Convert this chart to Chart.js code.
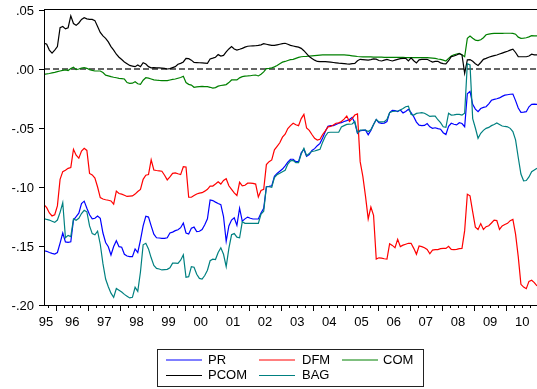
<!DOCTYPE html>
<html>
<head>
<meta charset="utf-8">
<style>
  html, body { margin: 0; padding: 0; background: #fff; }
  #wrap { position: relative; width: 537px; height: 389px; }
</style>
<script src="https://cdn.jsdelivr.net/npm/chart.js@4/dist/chart.umd.min.js"></script>
</head>
<body>
<div id="wrap"><canvas id="c" width="537" height="389"></canvas></div>
<script>
// Monthly observations, 1995M08 - 2010M12
const startYear = 1995;
const startMonth = 8;

const seriesNames = ['PR', 'DFM', 'COM', 'PCOM', 'BAG'];
const seriesColors = ['#0000ff', '#ff0000', '#008000', '#000000', '#008080'];

const PR = [
  -.154,-.1545,-.1555,-.1563,-.1568,-.1555,-.1475,-.139,-.1465,-.147,
  -.1465,-.128,-.1252,-.1222,-.114,-.112,-.118,-.1235,-.127,-.1265,
  -.1246,-.1265,-.139,-.147,-.1506,-.1576,-.1505,-.1455,-.1506,-.151,
  -.157,-.1585,-.159,-.159,-.1525,-.1555,-.145,-.133,-.1248,-.1255,
  -.133,-.14,-.143,-.1432,-.1435,-.1435,-.143,-.139,-.1382,-.137,
  -.1362,-.1345,-.1305,-.139,-.1398,-.135,-.134,-.1378,-.1375,-.136,
  -.132,-.127,-.111,-.1115,-.1128,-.114,-.115,-.125,-.146,-.133,
  -.128,-.126,-.1325,-.118,-.129,-.127,-.1255,-.1265,-.1271,-.1271,
  -.1271,-.122,-.118,-.0998,-.0995,-.099,-.091,-.0885,-.0866,-.0848,
  -.082,-.079,-.0765,-.0765,-.0785,-.0785,-.071,-.068,-.074,-.0725,
  -.069,-.0675,-.065,-.063,-.0585,-.053,-.0485,-.048,-.048,-.047,
  -.046,-.0455,-.0445,-.0437,-.0428,-.041,-.0455,-.0545,-.0523,-.052,
  -.0518,-.0558,-.052,-.047,-.0428,-.0455,-.046,-.0458,-.0445,-.037,
  -.035,-.0352,-.036,-.0348,-.0372,-.036,-.0342,-.037,-.0405,-.045,
  -.0476,-.048,-.0478,-.0462,-.049,-.0503,-.0498,-.0505,-.051,-.054,
  -.0555,-.0485,-.046,-.0468,-.0474,-.0455,-.0462,-.0489,-.021,-.019,
  -.03,-.034,-.0362,-.0335,-.0325,-.032,-.0295,-.0265,-.0258,-.0252,
  -.0245,-.0232,-.0222,-.0218,-.0214,-.0212,-.0268,-.033,-.0367,-.0365,
  -.0362,-.032,-.03,-.0298,-.03
];

const DFM = [
  -.115,-.1175,-.122,-.1245,-.1235,-.116,-.0935,-.087,-.0858,-.0842,
  -.0835,-.068,-.073,-.0755,-.0695,-.0672,-.069,-.0885,-.0898,-.0925,
  -.1,-.109,-.1102,-.1108,-.1112,-.1118,-.1145,-.1035,-.1055,-.106,
  -.107,-.108,-.1078,-.1076,-.106,-.1038,-.102,-.0935,-.09,-.0895,
  -.077,-.0856,-.086,-.0863,-.0866,-.09,-.094,-.0915,-.0884,-.088,
  -.0888,-.0895,-.0828,-.083,-.1087,-.1087,-.1072,-.1059,-.1052,-.1048,
  -.1035,-.102,-.0992,-.0992,-.0975,-.0955,-.0975,-.0945,-.093,-.099,
  -.102,-.105,-.1072,-.096,-.099,-.0985,-.0968,-.0968,-.097,-.0975,
  -.1085,-.103,-.102,-.081,-.0785,-.0771,-.0685,-.0655,-.0625,-.0578,
  -.0553,-.0505,-.048,-.046,-.0472,-.048,-.042,-.0384,-.05,-.052,
  -.0555,-.0588,-.0602,-.0595,-.0555,-.0525,-.049,-.0486,-.0475,-.046,
  -.0456,-.0445,-.0425,-.0398,-.0444,-.042,-.039,-.0381,-.0785,-.091,
  -.108,-.127,-.117,-.124,-.161,-.16,-.1603,-.1608,-.161,-.148,
  -.1495,-.1514,-.1443,-.1505,-.1493,-.1485,-.1477,-.1477,-.152,-.157,
  -.15,-.1505,-.1515,-.153,-.1566,-.1535,-.153,-.153,-.1522,-.152,
  -.152,-.1502,-.1528,-.153,-.1528,-.1522,-.152,-.137,-.1062,-.1075,
  -.121,-.134,-.136,-.131,-.136,-.1336,-.1328,-.1305,-.128,-.1285,
  -.136,-.133,-.1318,-.1308,-.1285,-.1275,-.14,-.159,-.1825,-.1848,
  -.1862,-.18,-.179,-.181,-.1839
];

const COM = [
  -.0045,-.0042,-.0038,-.0033,-.0028,-.0022,-.0017,-.0012,-.0008,-.0013,
  .0005,.0015,-.0006,0,.0008,.0011,.0006,-.0005,-.0012,-.0017,
  -.0017,-.0017,-.003,-.0052,-.0058,-.0065,-.007,-.0074,-.0079,-.0081,
  -.0085,-.0115,-.0121,-.012,-.0108,-.0125,-.013,-.0095,-.0074,-.0078,
  -.0085,-.0092,-.0095,-.0097,-.0098,-.0099,-.0098,-.0093,-.0088,-.0085,
  -.0078,-.0072,-.0062,-.0115,-.013,-.0136,-.0155,-.0152,-.015,-.0148,
  -.015,-.015,-.0155,-.0162,-.0158,-.0145,-.014,-.0136,-.0132,-.0115,
  -.0093,-.0093,-.0093,-.0075,-.0065,-.006,-.0059,-.0057,-.0053,-.0051,
  -.0059,-.0045,-.0025,.0003,.0006,.001,.0018,.003,.0045,.0058,
  .0064,.0072,.008,.0082,.009,.0098,.0104,.0106,.0107,.011,
  .0112,.0114,.0116,.0118,.0119,.0119,.0119,.0119,.0119,.0119,
  .0119,.0119,.0119,.0118,.0115,.0112,.0109,.0106,.0104,.0103,
  .0103,.0102,.0102,.0101,.0101,.01,.01,.0099,.0099,.0099,
  .0099,.0099,.0098,.0098,.0098,.0097,.0097,.0097,.0097,.0096,
  .0096,.0096,.0096,.0096,.0094,.0092,.009,.0085,.0082,.0075,
  .0068,.009,.011,.012,.0127,.0133,.012,.0104,.026,.028,
  .026,.0245,.024,.0248,.0265,.029,.0296,.03,.0302,.0302,
  .0302,.0302,.0303,.0303,.0303,.0302,.0295,.027,.026,.0262,
  .0265,.0272,.0282,.0281,.028
];

const PCOM = [
  .022,.021,.016,.0135,.016,.019,.035,.036,.034,.035,
  .045,.0385,.037,.039,.042,.0435,.0425,.042,.042,.041,
  .036,.031,.028,.026,.023,.019,.016,.0125,.010,.008,
  .006,.0045,.003,.0025,.002,.0034,.002,.0053,.0042,.002,
  .001,.0012,.001,.001,.0008,.0005,0,.0003,.0012,.002,
  .004,.0048,.006,.009,.0088,.0075,.0055,.0054,.0053,.0052,
  .005,.0048,.0085,.0092,.010,.0122,.011,.0115,.0145,.017,
  .019,.017,.016,.0167,.0175,.0185,.0193,.0195,.0196,.0197,
  .020,.0205,.0215,.021,.0205,.020,.020,.0205,.021,.0215,
  .0218,.021,.020,.0195,.019,.0185,.0175,.0155,.013,.0105,
  .009,.0075,.0064,.0062,.0062,.0062,.006,.0058,.0055,.0052,
  .0049,.0047,.0045,.0043,.0042,.0045,.0048,.007,.0082,.008,
  .0078,.0076,.008,.0085,.0083,.0072,.0068,.0075,.0082,.0074,
  .0068,.0075,.0082,.0088,.009,.009,.0068,.0095,.007,.0052,
  .0078,.0082,.0082,.0082,.007,.0059,.0065,.0065,.0052,.0046,
  .0043,.007,.0105,.011,.0119,.013,.012,-.0036,.0078,.008,
  .0065,.0045,.003,.0055,.0082,.009,.010,.0107,.0113,.0119,
  .0127,.0135,.0143,.015,.016,.0168,.014,.0105,.0104,.0104,
  .0104,.011,.0125,.012,.0119
];

const BAG = [
  -.1268,-.1275,-.128,-.129,-.13,-.128,-.1215,-.1133,-.143,-.141,
  -.142,-.127,-.1282,-.1265,-.1225,-.1198,-.121,-.133,-.1395,-.1405,
  -.1375,-.1485,-.165,-.178,-.1845,-.19,-.1935,-.186,-.1875,-.189,
  -.191,-.1925,-.194,-.1935,-.185,-.1885,-.172,-.149,-.1477,-.1525,
  -.16,-.1665,-.169,-.1695,-.1703,-.17,-.1698,-.1685,-.1645,-.1645,
  -.1647,-.162,-.1575,-.1765,-.176,-.1675,-.168,-.174,-.1775,-.178,
  -.175,-.1705,-.1625,-.1612,-.1615,-.1555,-.1515,-.157,-.1675,-.152,
  -.1405,-.1395,-.1425,-.143,-.1295,-.1308,-.1308,-.1308,-.1308,-.1308,
  -.1308,-.123,-.1205,-.0998,-.0998,-.1002,-.092,-.0895,-.0884,-.087,
  -.0858,-.0805,-.0778,-.0775,-.0794,-.0794,-.072,-.0672,-.0735,-.0715,
  -.0698,-.0695,-.0688,-.0681,-.062,-.057,-.0538,-.0536,-.0536,-.0536,
  -.0536,-.0492,-.048,-.0469,-.0468,-.0466,-.0445,-.054,-.0518,-.0517,
  -.0517,-.053,-.0515,-.047,-.0427,-.0448,-.0448,-.0446,-.0428,-.037,
  -.036,-.0358,-.0356,-.0347,-.0335,-.032,-.0315,-.0385,-.039,-.0376,
  -.0373,-.037,-.0375,-.0388,-.0402,-.04,-.04,-.043,-.0455,-.049,
  -.0494,-.0375,-.039,-.0388,-.0385,-.0385,-.039,-.0375,.0045,.0034,
  -.042,-.05,-.0587,-.0545,-.052,-.0503,-.0495,-.048,-.047,-.0458,
  -.047,-.0483,-.0487,-.049,-.0503,-.053,-.06,-.075,-.089,-.0947,
  -.0945,-.0915,-.087,-.0855,-.0842
];

const yearLabels = ['95','96','97','98','99','00','01','02','03','04','05','06','07','08','09','10'];
const yTickValues = [0.05, 0, -0.05, -0.10, -0.15, -0.20];

// Observation i sits at the middle of its month on a decimal-year axis
const monthTime = i => startYear + (startMonth - 1 + i + 0.5) / 12;
const toPoints = arr => arr.map((v, i) => ({ x: monthTime(i), y: v }));
const seriesData = [PR, DFM, COM, PCOM, BAG];
const tFirst = monthTime(0);
const tLast = monthTime(PR.length - 1);

const FONT = '13px "Liberation Sans", Arial, sans-serif';

function fmtY(v) {
  if (Math.abs(v) < 1e-9) return '.00';
  const s = Math.abs(v).toFixed(2).replace(/^0/, '');
  return (v < 0 ? '-' : '') + s;
}

const eviewsFrame = {
  id: 'eviewsFrame',
  beforeDatasetsDraw(chart) {
    const { ctx, chartArea: a, scales: { y } } = chart;
    const y0 = y.getPixelForValue(0);
    ctx.save();
    ctx.strokeStyle = '#333';
    ctx.lineWidth = 1.5;
    ctx.setLineDash([6, 3]);
    ctx.beginPath();
    ctx.moveTo(a.left, y0);
    ctx.lineTo(a.right, y0);
    ctx.stroke();
    ctx.restore();
  },
  afterDraw(chart) {
    const { ctx, chartArea: a, scales: { x, y } } = chart;
    ctx.save();
    ctx.strokeStyle = '#000';
    ctx.lineWidth = 1;
    ctx.setLineDash([]);

    // axis lines and top border
    ctx.beginPath();
    ctx.moveTo(a.left + 0.5, a.top - 0.5);
    ctx.lineTo(a.left + 0.5, a.bottom + 0.5);
    ctx.moveTo(a.left, a.bottom + 0.5);
    ctx.lineTo(a.right, a.bottom + 0.5);
    ctx.moveTo(a.left, a.top - 0.5);
    ctx.lineTo(a.right, a.top - 0.5);
    ctx.stroke();

    // y ticks and labels
    ctx.font = FONT;
    ctx.fillStyle = '#000';
    ctx.textAlign = 'right';
    ctx.textBaseline = 'middle';
    yTickValues.forEach(v => {
      const py = Math.round(y.getPixelForValue(v)) + 0.5;
      ctx.beginPath();
      ctx.moveTo(a.left - 5, py);
      ctx.lineTo(a.left, py);
      ctx.stroke();
      ctx.fillText(fmtY(v), a.left - 10, py + 0.5);
    });

    // x ticks: long at year boundaries, short at quarters
    const firstQ = Math.ceil(tFirst * 4) / 4;
    for (let q = firstQ; q <= tLast + 1e-9; q += 0.25) {
      const px = Math.round(x.getPixelForValue(q)) + 0.5;
      const isYear = Math.abs(q - Math.round(q)) < 1e-6;
      ctx.beginPath();
      ctx.moveTo(px, a.bottom);
      ctx.lineTo(px, a.bottom + (isYear ? 6 : 3));
      ctx.stroke();
    }

    // year labels centred on each year
    ctx.textAlign = 'center';
    yearLabels.forEach((lab, k) => {
      let px = x.getPixelForValue(startYear + k + 0.5);
      px = Math.max(px, a.left + 2);
      ctx.fillText(lab, px, a.bottom + 17.5);
    });

    // legend box
    const box = { l: 157.5, t: 349.5, w: 266, h: 37 };
    ctx.strokeStyle = '#222';
    ctx.strokeRect(box.l, box.t, box.w, box.h);
    const colLine = [166, 259, 342];
    const colText = [208, 302, 383];
    const rowY = [360, 375.5];
    ctx.textAlign = 'left';
    chart.data.datasets.forEach((ds, k) => {
      const c = k % 3, r = Math.floor(k / 3);
      ctx.strokeStyle = ds.borderColor;
      ctx.lineWidth = 1;
      ctx.beginPath();
      ctx.moveTo(colLine[c], rowY[r]);
      ctx.lineTo(colLine[c] + 36, rowY[r]);
      ctx.stroke();
      ctx.fillStyle = '#000';
      ctx.fillText(ds.label, colText[c], rowY[r]);
    });
    ctx.restore();
  }
};

new Chart(document.getElementById('c'), {
  type: 'line',
  data: {
    datasets: seriesNames.map((name, k) => ({
      label: name,
      data: toPoints(seriesData[k]),
      borderColor: seriesColors[k],
      backgroundColor: seriesColors[k],
      borderWidth: 1.2,
      pointRadius: 0,
      tension: 0,
      fill: false,
      order: seriesNames.length - k
    }))
  },
  options: {
    responsive: false,
    animation: false,
    devicePixelRatio: 1,
    layout: { padding: { top: 10, left: 0, right: 0, bottom: 0 } },
    plugins: { legend: { display: false }, tooltip: { enabled: false } },
    scales: {
      x: {
        type: 'linear',
        min: tFirst,
        max: tLast,
        grid: { display: false, drawTicks: false },
        border: { display: false },
        ticks: { display: false },
        afterFit: s => { s.height = 84; }
      },
      y: {
        min: -0.20,
        max: 0.05,
        grid: { display: false, drawTicks: false },
        border: { display: false },
        ticks: { display: false },
        afterFit: s => { s.width = 44; }
      }
    }
  },
  plugins: [eviewsFrame]
});
</script>
</body>
</html>
